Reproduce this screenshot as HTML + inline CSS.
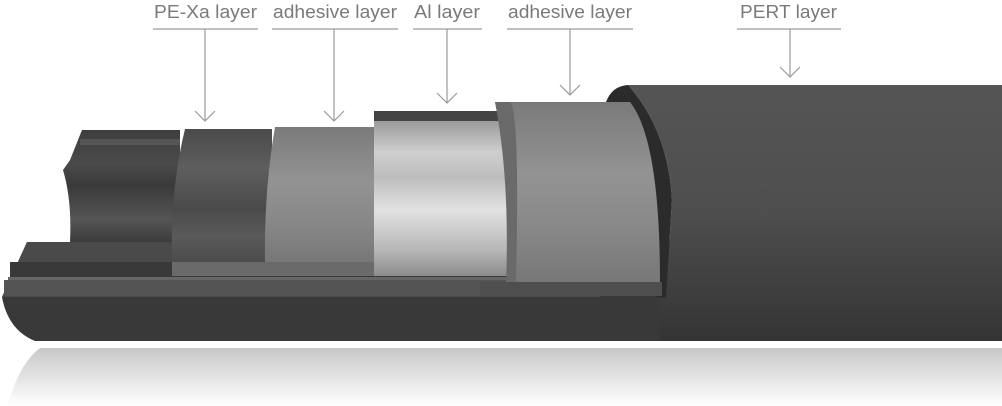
<!DOCTYPE html>
<html><head><meta charset="utf-8"><style>
html,body{margin:0;padding:0;background:#fff;width:1002px;height:406px;overflow:hidden}
svg{display:block}
text{font-family:"Liberation Sans",sans-serif;font-size:18px;fill:#7a7a7a}
</style></head><body>
<svg width="1002" height="406" viewBox="0 0 1002 406" xmlns="http://www.w3.org/2000/svg">
<defs>
<linearGradient id="refl" x1="0" y1="0" x2="0" y2="1"><stop offset="0" stop-color="#c8c8c8"/><stop offset="1" stop-color="#fff"/></linearGradient>
<linearGradient id="pert" x1="0" y1="0" x2="0" y2="1"><stop offset="0" stop-color="#555"/><stop offset="0.5" stop-color="#4e4e4e"/><stop offset="1" stop-color="#343434"/></linearGradient>
<linearGradient id="al" x1="0" y1="0" x2="0" y2="1"><stop offset="0" stop-color="#8a8a8a"/><stop offset="0.25" stop-color="#cfcfcf"/><stop offset="0.4" stop-color="#bdbdbd"/><stop offset="0.6" stop-color="#e2e2e2"/><stop offset="0.85" stop-color="#b5b5b5"/><stop offset="1" stop-color="#8c8c8c"/></linearGradient>
<linearGradient id="ad" x1="0" y1="0" x2="0" y2="1"><stop offset="0" stop-color="#7a7a7a"/><stop offset="0.4" stop-color="#939393"/><stop offset="0.7" stop-color="#888"/><stop offset="1" stop-color="#777"/></linearGradient>
<linearGradient id="pex" x1="0" y1="0" x2="0" y2="1"><stop offset="0" stop-color="#4a4a4a"/><stop offset="0.3" stop-color="#5e5e5e"/><stop offset="0.6" stop-color="#4a4a4a"/><stop offset="0.8" stop-color="#5a5a5a"/><stop offset="1" stop-color="#4c4c4c"/></linearGradient>
<linearGradient id="inner" x1="0" y1="0" x2="0" y2="1"><stop offset="0" stop-color="#3e3e3e"/><stop offset="0.3" stop-color="#4a4a4a"/><stop offset="0.5" stop-color="#3a3a3a"/><stop offset="0.8" stop-color="#555"/><stop offset="1" stop-color="#3c3c3c"/></linearGradient>
</defs>
<!-- reflection -->
<path d="M40 348 H1002 V406 H8 Q18 365 40 348 Z" fill="url(#refl)"/>
<!-- bottom slab -->
<path d="M27 242 H700 V341 H35 Q8 330 2 297 Z" fill="#393939"/>
<path d="M27 242 H600 V297 H2 Z" fill="#4a4a4a"/>
<rect x="10" y="262" width="590" height="15" fill="#393939"/>
<rect x="8" y="277" width="592" height="3" fill="#666"/>
<rect x="4" y="280" width="600" height="16" fill="#545454"/>
<!-- PERT outer body -->
<path d="M628 85 H1002 V341 H660 V300 L666 298 L672 200 Q668 130 628 85 Z" fill="url(#pert)"/>
<!-- PERT front crescent -->
<path d="M606 102 Q612 86 628 85 Q668 130 672 200 L666 298 L652 296 Q660 160 630 102 Z" fill="#2b2b2b"/>
<!-- inner PE-Xa visible -->
<path d="M82 130 H180 V242 H70 Q72 200 63 170 L70 160 Z" fill="url(#inner)"/>
<rect x="80" y="139" width="100" height="6" fill="#555"/>
<!-- PE-Xa layer -->
<path d="M185 129 H272 V262 H172 Q170 190 185 129 Z" fill="url(#pex)"/>
<!-- adhesive 1 -->
<path d="M275 127 H378 V262 H265 Q264 190 275 127 Z" fill="url(#ad)"/>
<rect x="172" y="262" width="205" height="14" fill="#6a6a6a"/>
<!-- Al -->
<rect x="374" y="111" width="140" height="165" fill="url(#al)"/>
<rect x="374" y="111" width="140" height="10" fill="#444"/>
<!-- adhesive 2 -->
<path d="M495 102 H630 Q660 140 660 282 H512 Q515 180 495 102 Z" fill="url(#ad)"/>
<path d="M495 102 H510 Q520 110 516 282 H506 Q510 180 495 102 Z" fill="#6a6a6a"/>
<rect x="480" y="282" width="182" height="14" fill="#4e4e4e"/>
<!-- labels -->
<g stroke="#9a9a9a" stroke-width="1.2" fill="none">
<line x1="153" y1="29" x2="258" y2="29"/><line x1="205" y1="29" x2="205" y2="121"/><polyline points="195,111 205,121 215,111"/>
<line x1="272" y1="29" x2="398" y2="29"/><line x1="334" y1="29" x2="334" y2="121"/><polyline points="324,111 334,121 344,111"/>
<line x1="413" y1="29" x2="482" y2="29"/><line x1="447" y1="29" x2="447" y2="103"/><polyline points="437,93 447,103 457,93"/>
<line x1="507" y1="29" x2="633" y2="29"/><line x1="570" y1="29" x2="570" y2="95"/><polyline points="560,85 570,95 580,85"/>
<line x1="737" y1="29" x2="841" y2="29"/><line x1="790" y1="29" x2="790" y2="77"/><polyline points="780,67 790,77 800,67"/>
</g>
<text x="154" y="18" textLength="103" lengthAdjust="spacingAndGlyphs">PE-Xa  layer</text>
<text x="273" y="18" textLength="124" lengthAdjust="spacingAndGlyphs">adhesive layer</text>
<text x="414" y="18" textLength="66" lengthAdjust="spacingAndGlyphs">Al layer</text>
<text x="508" y="18" textLength="124" lengthAdjust="spacingAndGlyphs">adhesive layer</text>
<text x="740" y="18" textLength="97" lengthAdjust="spacingAndGlyphs">PERT layer</text>
</svg>
</body></html>
